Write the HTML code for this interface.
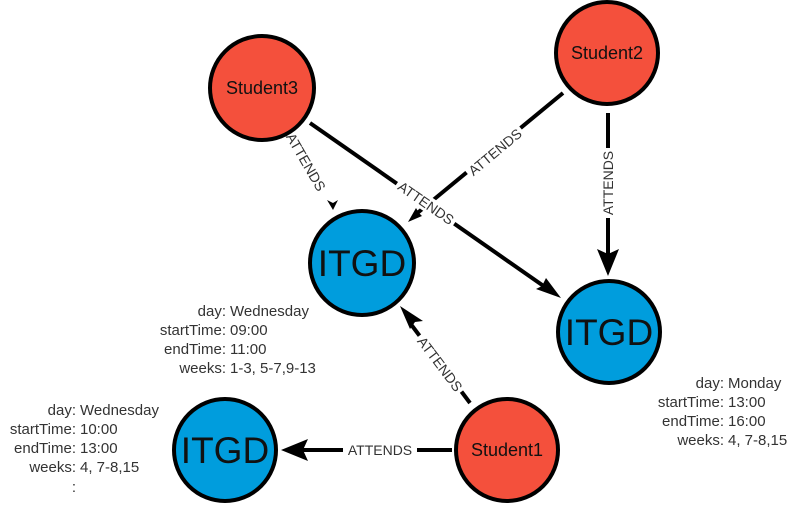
<!DOCTYPE html>
<html><head><meta charset="utf-8"><style>
html,body{margin:0;padding:0;background:#fff;width:796px;height:506px;overflow:hidden}
svg{display:block;font-family:"Liberation Sans",Arial,sans-serif}
</style></head><body>
<svg width="796" height="506" viewBox="0 0 796 506">
<g stroke="#000" stroke-width="4" fill="none">
<line x1="563" y1="93" x2="415" y2="215"/>
<line x1="310" y1="123" x2="545" y2="287"/>
<line x1="608" y1="113" x2="608" y2="262"/>
<line x1="470" y1="403" x2="410" y2="323"/>
<line x1="452" y1="450" x2="295" y2="450"/>
</g>
<g fill="#000">
<path d="M408,222 l14,-6 l-3,-3 l-3,-5z"/>
<path d="M561,298 l-25,-9 l6,-3 l4,-8z"/>
<path d="M608,276 l-11,-27 l11,5 l11,-5z"/>
<path d="M400,306 l23,15 l-8,1 l-5,7z"/>
<path d="M281,450 l27,-11 l-5,11 l5,11z"/>
<path d="M333,210 l-6,-10 l6,3 l5,-3z"/>
</g>
<g font-size="14" fill="#333" text-anchor="middle">
<g transform="translate(495,152) rotate(-39.8)"><rect x="-35" y="-8" width="70" height="16" fill="#fff"/><text y="5">ATTENDS</text></g>
<g transform="translate(426,203) rotate(34.8)"><rect x="-35" y="-8" width="70" height="16" fill="#fff"/><text y="5">ATTENDS</text></g>
<g transform="translate(306,162) rotate(60)"><text y="5">ATTENDS</text></g>
<g transform="translate(608,183) rotate(-90)"><rect x="-35" y="-8" width="70" height="16" fill="#fff"/><text y="5">ATTENDS</text></g>
<g transform="translate(440,364) rotate(53)"><rect x="-35" y="-8" width="70" height="16" fill="#fff"/><text y="5">ATTENDS</text></g>
<g transform="translate(380,450)"><rect x="-37" y="-8" width="74" height="16" fill="#fff"/><text y="5">ATTENDS</text></g>
</g>
<g stroke="#000" stroke-width="4">
<circle cx="262" cy="88" r="52" fill="#f4503c"/>
<circle cx="607" cy="53" r="51" fill="#f4503c"/>
<circle cx="507" cy="450" r="51" fill="#f4503c"/>
<circle cx="362" cy="263" r="52" fill="#009ddd"/>
<circle cx="609" cy="332" r="51" fill="#009ddd"/>
<circle cx="225" cy="450" r="51" fill="#009ddd"/>
</g>
<g text-anchor="middle" fill="#111">
<text x="262" y="94" font-size="18">Student3</text>
<text x="607" y="59" font-size="18">Student2</text>
<text x="507" y="456" font-size="18">Student1</text>
<text x="362" y="276" font-size="37">ITGD</text>
<text x="609" y="345" font-size="37">ITGD</text>
<text x="225" y="463" font-size="37">ITGD</text>
</g>
<g font-size="15" fill="#333">
<g text-anchor="end">
<text x="226" y="316">day:</text><text x="226" y="335">startTime:</text><text x="226" y="354">endTime:</text><text x="226" y="373">weeks:</text>
<text x="76" y="415">day:</text><text x="76" y="434">startTime:</text><text x="76" y="453">endTime:</text><text x="76" y="472">weeks:</text><text x="76" y="492">:</text>
<text x="724" y="388">day:</text><text x="724" y="407">startTime:</text><text x="724" y="426">endTime:</text><text x="724" y="445">weeks:</text>
</g>
<text x="230" y="316">Wednesday</text><text x="230" y="335">09:00</text><text x="230" y="354">11:00</text><text x="230" y="373">1-3, 5-7,9-13</text>
<text x="80" y="415">Wednesday</text><text x="80" y="434">10:00</text><text x="80" y="453">13:00</text><text x="80" y="472">4, 7-8,15</text>
<text x="728" y="388">Monday</text><text x="728" y="407">13:00</text><text x="728" y="426">16:00</text><text x="728" y="445">4, 7-8,15</text>
</g>
</svg>
</body></html>
